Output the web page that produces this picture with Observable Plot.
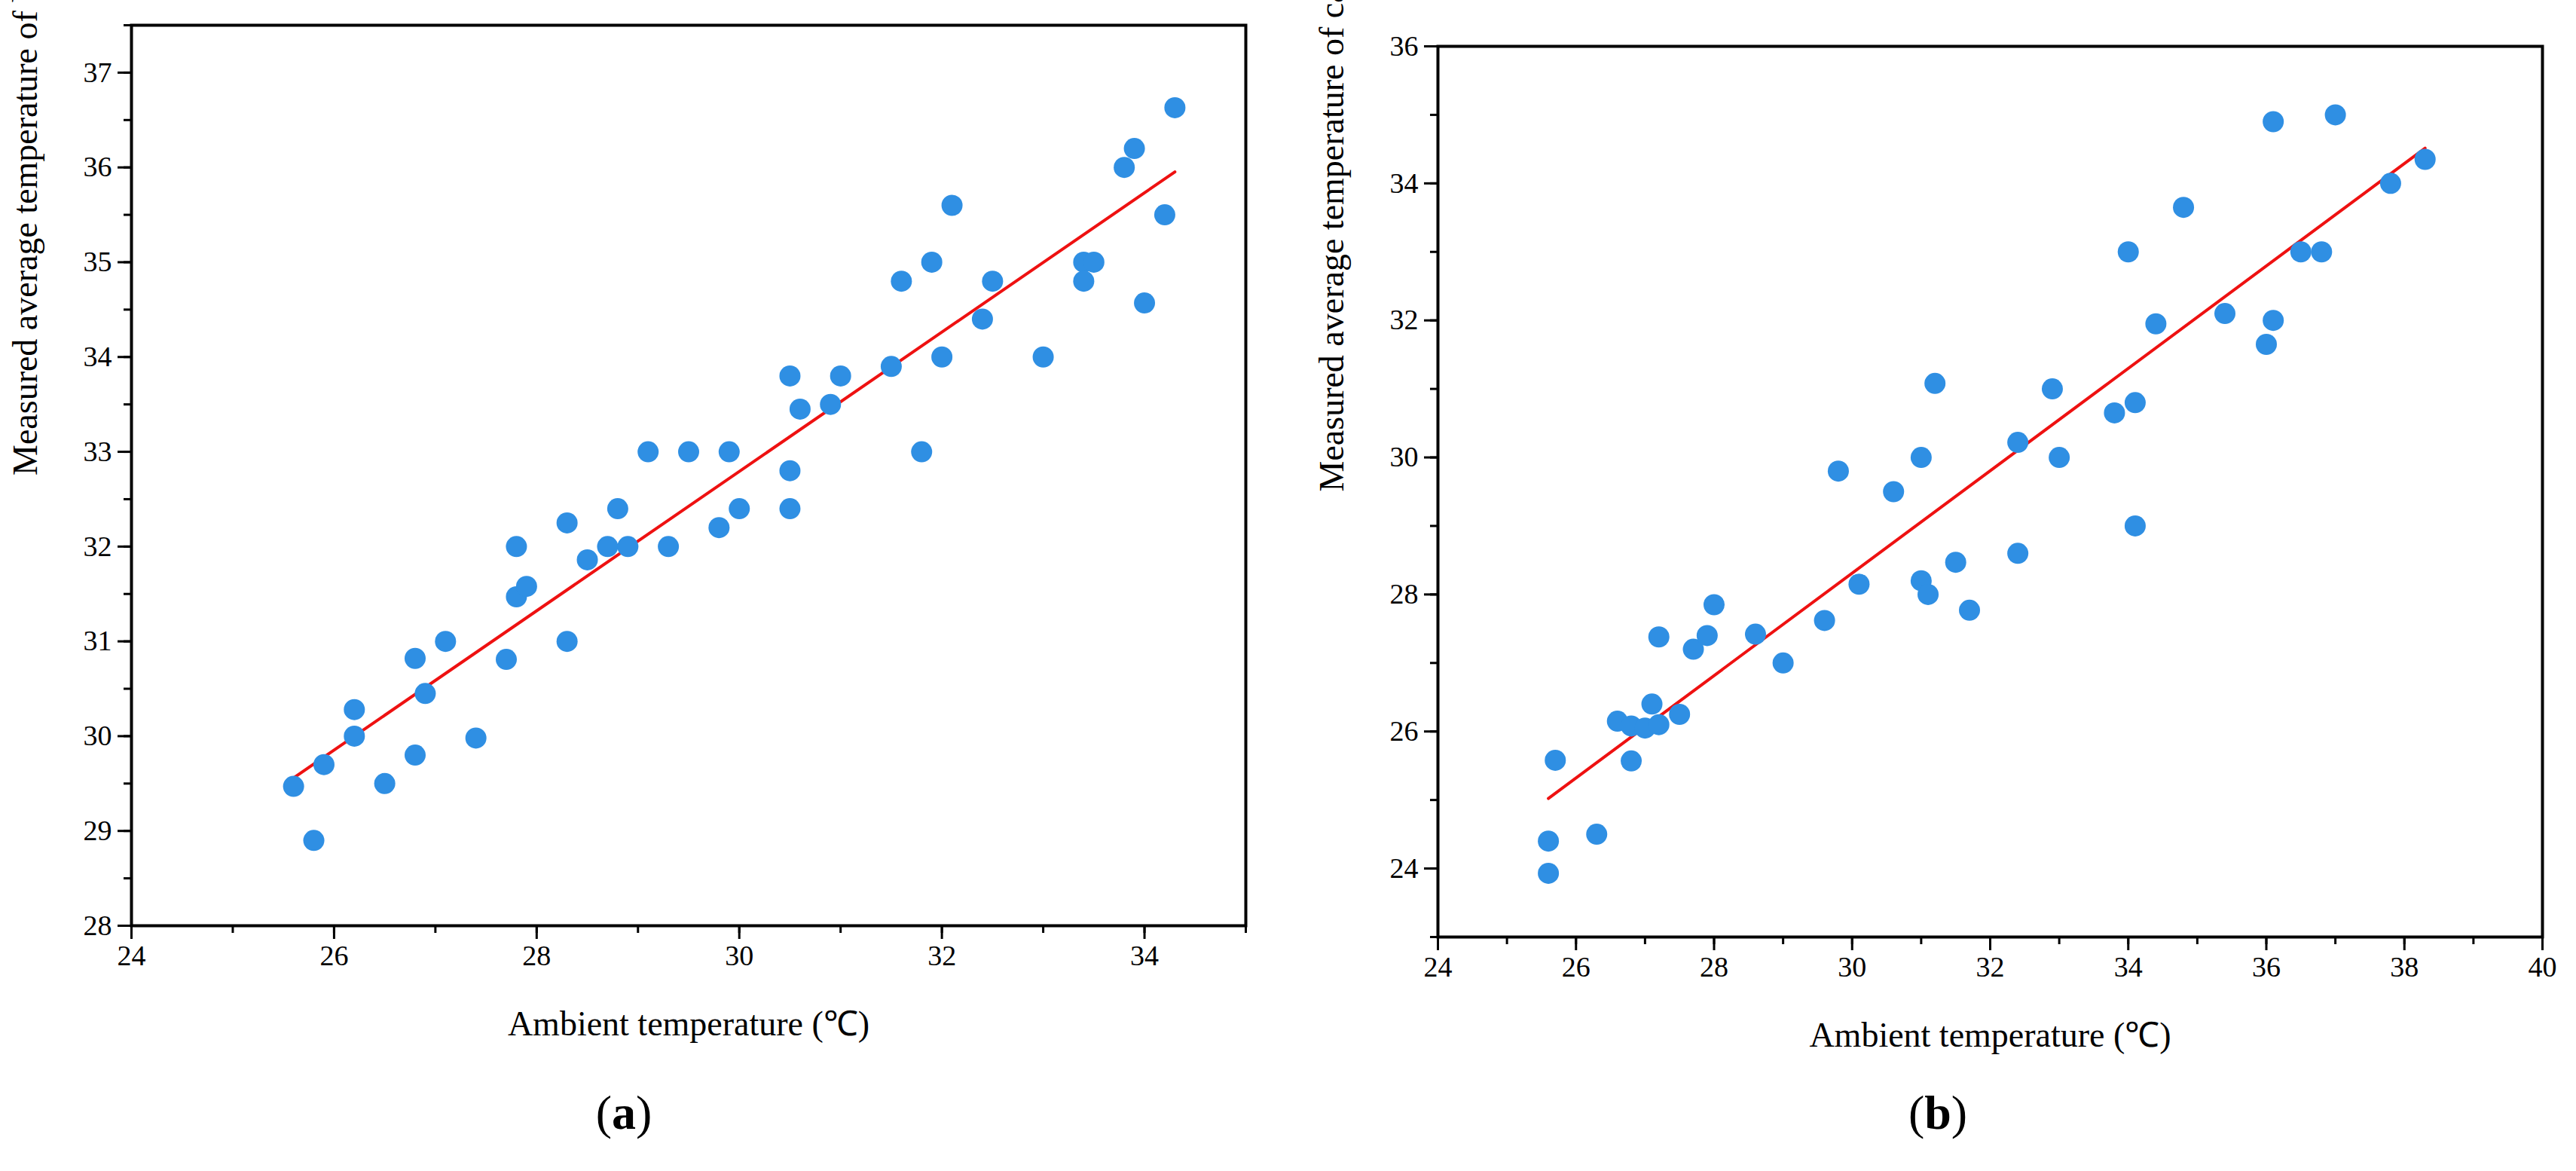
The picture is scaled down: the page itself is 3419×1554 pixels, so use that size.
<!DOCTYPE html>
<html><head><meta charset="utf-8">
<script src="https://cdn.jsdelivr.net/npm/d3@7"></script>
<script src="https://cdn.jsdelivr.net/npm/@observablehq/plot@0.6"></script>
<style>
body{margin:0;background:#fff;width:3419px;height:1554px;position:relative;overflow:hidden;font-family:"Liberation Serif",serif}
.p{position:absolute;top:0}
.cap{position:absolute;top:1440px;font:bold 64px "Liberation Serif",serif;transform:translateX(-50%)}
.cap span{font-weight:normal}
</style></head><body>
<div id="a" class="p" style="left:0"></div>
<div id="b" class="p" style="left:1709px"></div>
<div class="cap" style="left:828px"><span>(</span>a<span>)</span></div>
<div class="cap" style="left:2572px"><span>(</span>b<span>)</span></div>
<script>
const beamAmbient=[25.6,25.8,25.9,26.2,26.2,26.5,26.8,26.8,26.9,27.1,27.4,27.7,27.8,27.8,27.9,28.3,28.3,28.5,28.7,28.8,28.9,29.1,29.3,29.5,29.8,29.9,30.0,30.5,30.5,30.5,30.6,30.9,31.0,31.5,31.6,31.8,31.9,32.0,32.1,32.4,32.5,33.0,33.4,33.4,33.5,33.8,33.9,34.0,34.2,34.3];
const beamTemp=[29.47,28.9,29.7,30.28,30.0,29.5,30.82,29.8,30.45,31.0,29.98,30.81,32.0,31.47,31.58,32.25,31.0,31.86,32.0,32.4,32.0,33.0,32.0,33.0,32.2,33.0,32.4,33.8,32.8,32.4,33.45,33.5,33.8,33.9,34.8,33.0,35.0,34.0,35.6,34.4,34.8,34.0,35.0,34.8,35.0,36.0,36.2,34.57,35.5,36.63];
const cableAmbient=[25.6,25.6,25.7,26.3,26.6,26.8,26.8,27.0,27.1,27.2,27.2,27.5,27.7,27.9,28.0,28.6,29.0,29.6,29.8,30.1,30.6,31.0,31.0,31.1,31.2,31.5,31.7,32.4,32.4,32.9,33.0,33.8,34.0,34.1,34.1,34.4,34.8,35.4,36.0,36.1,36.1,36.5,36.8,37.0,37.8,38.3];
const cableTemp=[24.4,23.93,25.58,24.5,26.15,26.08,25.57,26.05,26.4,26.1,27.38,26.25,27.2,27.4,27.85,27.42,27.0,27.62,29.8,28.15,29.5,30.0,28.2,28.0,31.08,28.47,27.77,30.22,28.6,31.0,30.0,30.65,33.0,30.8,29.0,31.95,33.65,32.1,31.65,34.9,32.0,33.0,33.0,35.0,34.0,34.35];
const xLabel="Ambient temperature (℃)";
const yLabelA="Measured average temperature of beam (℃)";
const yLabelB="Measured average temperature of cable (℃)";

function make(xs,ys,cfg){
  const data=xs.map((x,i)=>({x,y:ys[i]}));
  const H=1420;
  return Plot.plot({
    width:1709,height:H,
    marginLeft:cfg.ml,marginRight:cfg.mr,marginTop:cfg.mt,marginBottom:H-cfg.bottom,
    style:{fontFamily:"Liberation Serif",fontSize:"38px",color:"#000",background:"#fff",overflow:"visible"},
    x:{domain:cfg.xd},y:{domain:cfg.yd},
    marks:[
      Plot.axisX({ticks:d3.range(cfg.xd[0],cfg.xd[1]+0.01,cfg.xminor),tickSize:10,tickFormat:()=>"",label:null,strokeWidth:3}),
      Plot.axisX({ticks:cfg.xt,tickSize:18,tickPadding:8,strokeWidth:3,tickFormat:d=>String(d),label:null}),
      Plot.text([xLabel],{frameAnchor:"bottom",dy:145,lineAnchor:"bottom",fontSize:46}),
      Plot.axisY({ticks:d3.range(cfg.yd[0],cfg.yd[1]+0.01,cfg.yminor),tickSize:10,tickFormat:()=>"",label:null,strokeWidth:3}),
      Plot.axisY({ticks:cfg.yt,tickSize:18,tickPadding:8,strokeWidth:3,tickFormat:d=>String(d),label:null}),
      Plot.text([cfg.yl],{frameAnchor:"left",dx:-cfg.lo,rotate:-90,fontSize:46}),
      Plot.frame({stroke:"#000",strokeWidth:4}),
      Plot.linearRegressionY(data,{x:"x",y:"y",stroke:"#ee1111",strokeWidth:4,ci:0}),
      Plot.dot(data,{x:"x",y:"y",r:14,fill:"#2f8fe3",stroke:"none"})
    ]
  });
}
document.getElementById("a").append(make(beamAmbient,beamTemp,{
  ml:174,mr:56,mt:33,bottom:1228,xd:[24,35],yd:[28,37.5],xminor:1,yminor:0.5,
  xt:[24,26,28,30,32,34],yt:[28,29,30,31,32,33,34,35,36,37],yl:yLabelA,lo:140}));
document.getElementById("b").append(make(cableAmbient,cableTemp,{
  ml:199,mr:44,mt:61,bottom:1243,xd:[24,40],yd:[23,36],xminor:1,yminor:1,
  xt:[24,26,28,30,32,34,36,38,40],yt:[24,26,28,30,32,34,36],yl:yLabelB,lo:140}));
</script></body></html>
